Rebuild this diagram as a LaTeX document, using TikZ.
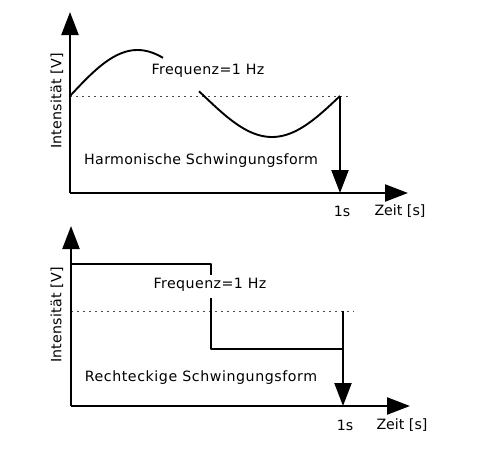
\documentclass[tikz,border=0pt]{standalone}
\usepackage{fontspec}
\setmainfont{DejaVu Sans}
\usetikzlibrary{arrows.meta}
\begin{document}
\begin{tikzpicture}[x=1pt,y=-1pt,
  axis/.style={line width=2.3pt, -{Triangle[length=23pt,width=17pt]}},
  wave/.style={line width=1.9pt, line join=round},
  refline/.style={line width=0.9pt, dash pattern=on 1.5pt off 4.5pt, black!70},
  lbl/.style={font=\fontsize{14.2}{16}\selectfont, inner sep=0pt},
  sp/.style={font=\fontsize{14.2}{16}\selectfont\addfontfeatures{LetterSpace=#1}}]
\useasboundingbox (0,0) rectangle (480,450);
% ---------- top panel ----------
\coordinate (o1) at (70,193);
\coordinate (y1) at (70,12);
\coordinate (x1) at (408,193);
\coordinate (s1) at (340,96);
\coordinate (t1) at (340,193);
\coordinate (d1a) at (70,96);
\coordinate (d1b) at (352,96);
\draw[refline] (d1a) -- (d1b);
\draw[wave] plot[domain=70:163, samples=50, smooth] (\x, {96-46*sin((\x-70)/270*360)});
\draw[wave] plot[domain=199:340, samples=60, smooth] (\x, {96-41*sin((\x-68)/272*360)});
\draw[axis] (o1) -- (y1);
\draw[axis] (o1) -- (x1);
\draw[axis] (s1) -- (t1);
\node[lbl, sp=3] (f1) at (208,71) {Frequenz=1 Hz};
\node[lbl, sp=2.5] (h1) at (201,161) {Harmonische Schwingungsform};
\node[lbl] (one1) at (342,211) {1s};
\node[lbl] (z1) at (400,211) {Zeit [s]};
\node[lbl, sp=1.5, rotate=90] (i1) at (57,101) {Intensität [V]};
% ---------- bottom panel ----------
\coordinate (o2) at (71,406);
\coordinate (y2) at (71,226);
\coordinate (x2) at (410,406);
\coordinate (a2) at (71,264);
\coordinate (b2) at (211,264);
\coordinate (c2) at (211,275);
\coordinate (c2b) at (211,298);
\coordinate (e2) at (211,349);
\coordinate (g2) at (343,349);
\coordinate (s2) at (343,311);
\coordinate (d2a) at (71,311);
\coordinate (d2b) at (354,311);
\draw[refline] (d2a) -- (d2b);
\draw[wave] (a2) -- (b2) -- (c2);
\draw[wave] (c2b) -- (e2) -- (g2);
\draw[axis] (o2) -- (y2);
\draw[axis] (o2) -- (x2);
\draw[axis] (s2) -- (o2 -| s2);
\node[lbl, sp=3] (f2) at (210,285) {Frequenz=1 Hz};
\node[lbl, sp=4] (r2) at (201,378) {Rechteckige Schwingungsform};
\node[lbl] (one2) at (345,425) {1s};
\node[lbl] (z2) at (402,425) {Zeit [s]};
\node[lbl, sp=1.5, rotate=90] (i2) at (57,315) {Intensität [V]};
\end{tikzpicture}
\end{document}
